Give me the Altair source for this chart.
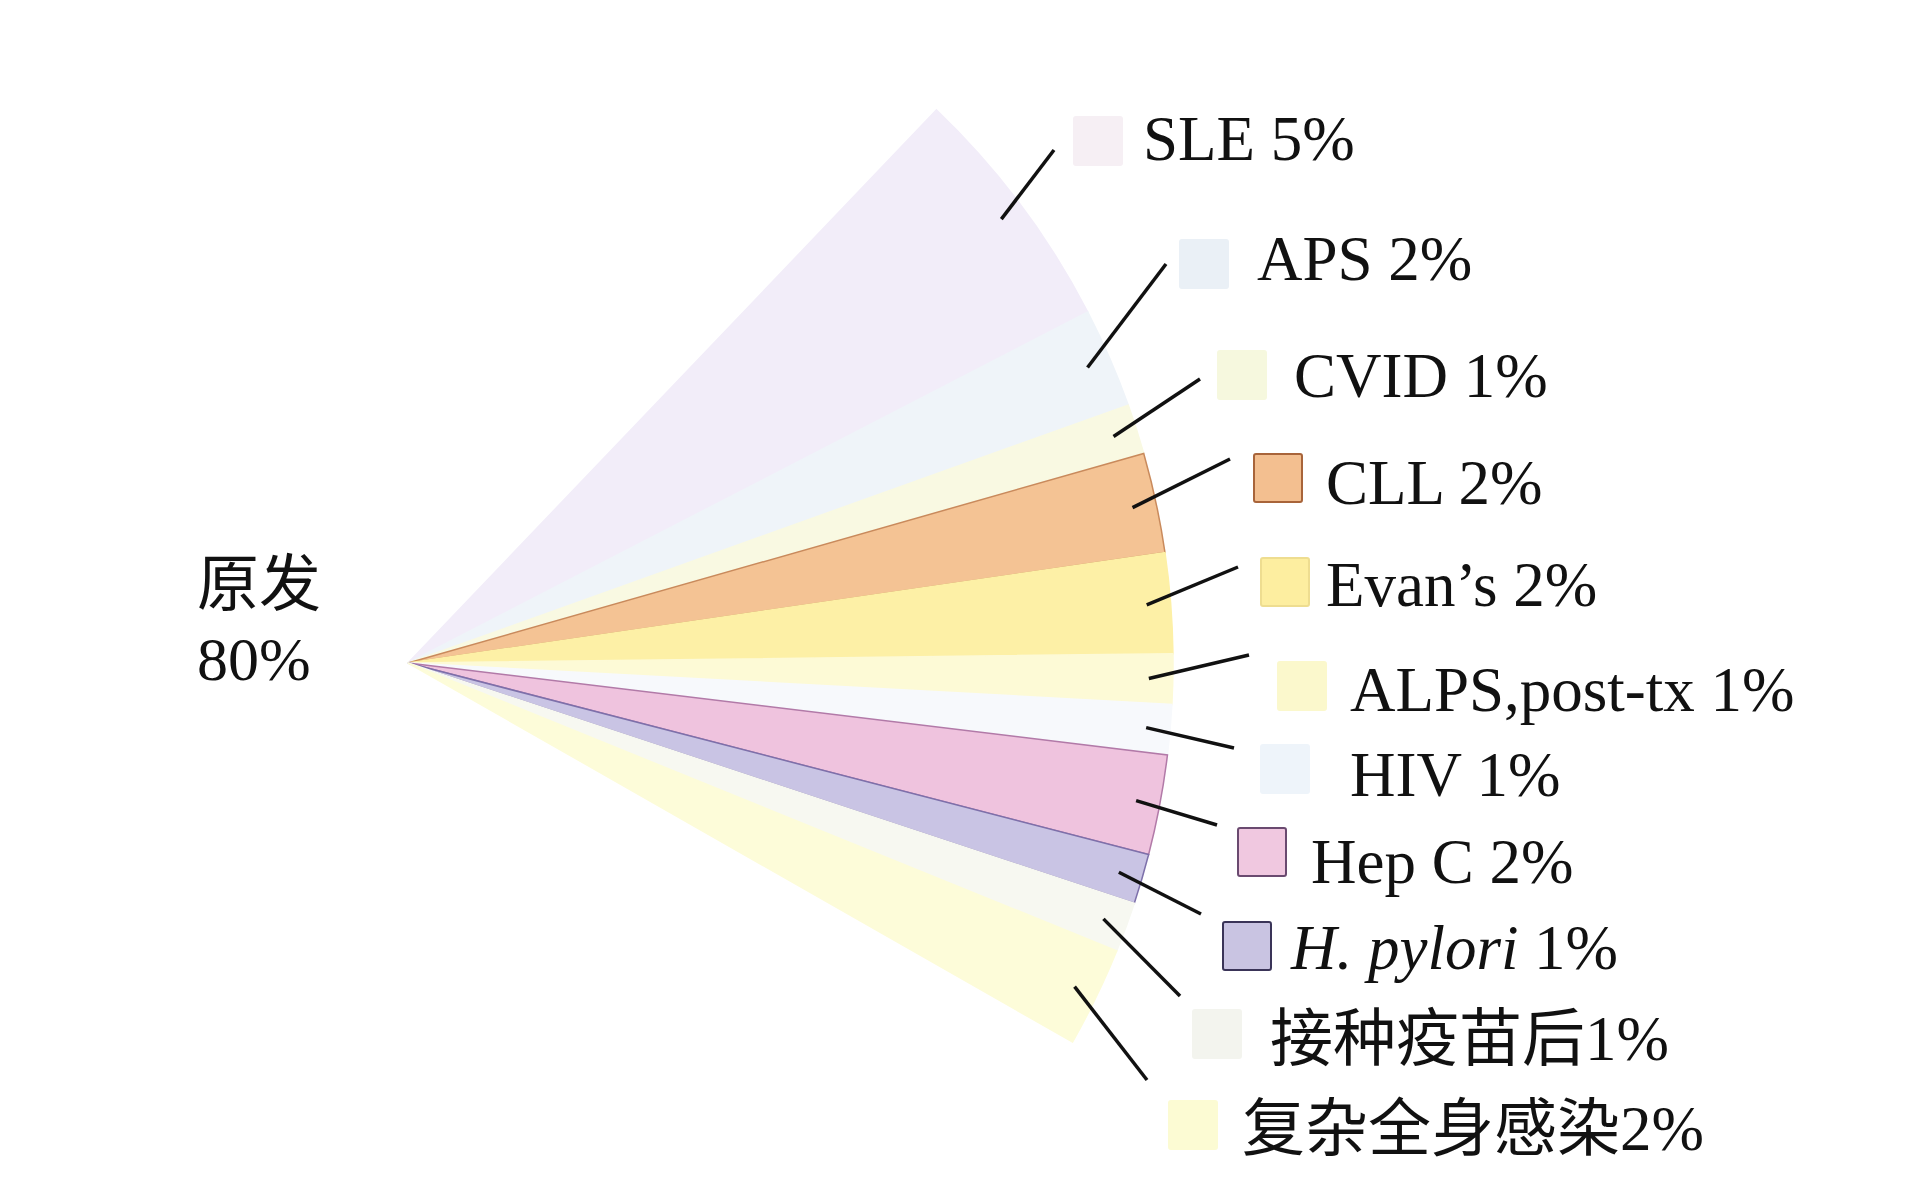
import math
import pandas as pd
import altair as alt

# ---------------- data ----------------
categories = ["SLE", "APS", "CVID", "CLL", "Evan’s", "ALPS,post-tx", "HIV",
              "Hep C", "H. pylori", "接种疫苗后", "复杂全身感染", "原发"]
values = [5, 2, 1, 2, 2, 1, 1, 2, 1, 1, 2, 80]
label_texts = ["SLE 5%", "APS 2%", "CVID 1%", "CLL 2%", "Evan’s 2%",
               "ALPS,post-tx 1%", "HIV 1%", "Hep C 2%", "1%",
               "接种疫苗后1%", "复杂全身感染2%"]
italic_part = ["", "", "", "", "", "", "", "", "H. pylori", "", ""]

# ---------------- styles ----------------
slice_fill = ["#f2edf9", "#eff4f9", "#f9f9e2", "#f4c394", "#fdf0a6", "#fdfad6",
              "#f7f9fc", "#efc3de", "#c9c4e4", "#f7f8f1", "#fdfcd9", "transparent"]
slice_stroke = ["#f2edf9", "#eff4f9", "#f9f9e2", "#c98a5c", "#fdf0a6", "#fdfad6",
                "#f7f9fc", "#b27aa8", "#7d70aa", "#f7f8f1", "#fdfcd9", "transparent"]
sq_fill = ["#f6eff4", "#eaf0f6", "#f6f8de", "#f3bf90", "#fdeea0", "#fbf8cc",
           "#eef4fa", "#f0c8e0", "#c9c4e2", "#f3f4ee", "#fcfbd3"]
sq_stroke = ["#f6eff4", "#eaf0f6", "#f6f8de", "#a8643a", "#eedd90", "#fbf8cc",
             "#eef4fa", "#6a4a70", "#3a3458", "#f3f4ee", "#fcfbd3"]

# ---------------- layout (view pixels) ----------------
W, H = 1912, 1184
CX, CY = 400, 655
R_OUT = 765
R_LEAD = 741
START_DEG = 46.3           # angle above horizontal where the first slice begins
DEG_PER = 3.8              # drawn degrees per percentage point
FONT = "Liberation Serif, Noto Sans CJK SC"
FS = 63

label_x = [1135, 1249, 1286, 1318, 1318, 1342, 1342, 1303, 1283, 1262, 1234]
label_y = [152, 272, 389, 496, 598, 703, 788, 875, 961, 1052, 1142]
sq_x = [1090, 1196, 1234, 1270, 1277, 1294, 1277, 1254, 1239, 1209, 1185]
sq_y = [133, 256, 367, 470, 574, 678, 761, 844, 938, 1026, 1117]
SQ = 48
lead_end_x = [1046, 1158, 1192, 1222, 1230, 1241, 1226, 1209, 1193, 1172, 1139]
lead_end_y = [142, 256, 371, 451, 559, 647, 740, 817, 906, 988, 1072]
ITALIC_OFFSET = 243

# ---------------- tables ----------------
pie = pd.DataFrame({"idx": range(len(categories)), "cat": categories,
                    "value": values, "fill": slice_fill, "stroke": slice_stroke})

total = sum(values)
rows = []
cum = 0
for i in range(len(label_texts)):
    mid = START_DEG - (cum + values[i] / 2.0) * DEG_PER
    cum += values[i]
    a = math.radians(mid)
    rows.append({
        "x1": CX + R_LEAD * math.cos(a), "y1": CY - R_LEAD * math.sin(a),
        "x2": lead_end_x[i], "y2": lead_end_y[i],
        "sx0": sq_x[i] - SQ / 2, "sx1": sq_x[i] + SQ / 2,
        "sy0": sq_y[i] - SQ / 2, "sy1": sq_y[i] + SQ / 2,
        "sfill": sq_fill[i], "sstroke": sq_stroke[i],
        "tx": label_x[i] + (ITALIC_OFFSET if italic_part[i] else 0),
        "ty": label_y[i], "text": label_texts[i],
        "ix": label_x[i], "itext": italic_part[i],
    })
lab = pd.DataFrame(rows)
ital = lab[lab["itext"] != ""]

left = pd.DataFrame({"text": ["原发", "80%"], "x": [189, 189], "y": [598, 672]})

a0 = math.radians(90 - START_DEG)
span = math.radians(DEG_PER * total)

arcs = alt.Chart(pie).mark_arc(outerRadius=R_OUT, innerRadius=0, strokeWidth=1.5).encode(
    theta=alt.Theta("value:Q", stack=True,
                    scale=alt.Scale(domain=[0, total], range=[a0, a0 + span])),
    order=alt.Order("idx:Q", sort="ascending"),
    fill=alt.Fill("fill:N", scale=None),
    stroke=alt.Stroke("stroke:N", scale=None),
    x=alt.value(CX), y=alt.value(CY),
)

rules = alt.Chart(lab).mark_rule(strokeWidth=3.5, color="#111111").encode(
    x=alt.X("x1:Q", scale=None), y=alt.Y("y1:Q", scale=None),
    x2="x2:Q", y2="y2:Q",
)

squares = alt.Chart(lab).mark_rect(cornerRadius=2, strokeWidth=2).encode(
    x=alt.X("sx0:Q", scale=None), x2="sx1:Q",
    y=alt.Y("sy0:Q", scale=None), y2="sy1:Q",
    fill=alt.Fill("sfill:N", scale=None),
    stroke=alt.Stroke("sstroke:N", scale=None),
)

texts = alt.Chart(lab).mark_text(align="left", baseline="alphabetic", font=FONT,
                                 fontSize=FS, color="#111111").encode(
    x=alt.X("tx:Q", scale=None), y=alt.Y("ty:Q", scale=None), text="text:N",
)

itexts = alt.Chart(ital).mark_text(align="left", baseline="alphabetic", font=FONT,
                                   fontSize=FS, fontStyle="italic", color="#111111").encode(
    x=alt.X("ix:Q", scale=None), y=alt.Y("ty:Q", scale=None), text="itext:N",
)

ltexts = alt.Chart(left).mark_text(align="left", baseline="alphabetic", font=FONT,
                                   fontSize=62, color="#111111").encode(
    x=alt.X("x:Q", scale=None), y=alt.Y("y:Q", scale=None), text="text:N",
)

chart = alt.layer(arcs, rules, squares, texts, itexts, ltexts).properties(
    width=W, height=H, padding=0, autosize=alt.AutoSizeParams(type="none"),
    background="white",
).configure_view(stroke=None)

chart.save("out.html", embed_options={"renderer": "svg", "actions": False})
